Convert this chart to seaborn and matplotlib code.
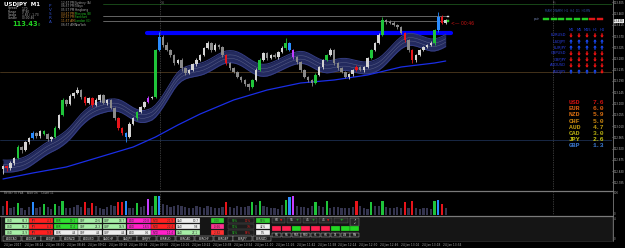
import numpy as np
import pandas as pd
import seaborn as sns
import matplotlib
matplotlib.use('Agg')
import matplotlib.pyplot as plt
from matplotlib.patches import Rectangle, FancyArrow

W, H = 625, 248

# ---- USDJPY M1 candles ----
first_open = 112.838
closes = [112.850, 112.842, 112.862, 112.882, 112.926, 112.914, 112.946, 112.962, 112.982, 112.970,
          112.990, 112.978, 112.958, 112.966, 113.002, 113.054, 113.114, 113.098, 113.130, 113.142,
          113.154, 113.126, 113.102, 113.122, 113.094, 113.114, 113.134, 113.102, 113.114, 113.082,
          113.042, 113.002, 112.982, 112.966, 113.018, 113.042, 113.066, 113.086, 113.106, 113.122,
          113.126, 113.314, 113.366, 113.334, 113.314, 113.294, 113.262, 113.274, 113.242, 113.222,
          113.234, 113.258, 113.274, 113.294, 113.322, 113.342, 113.314, 113.334, 113.326, 113.294,
          113.262, 113.242, 113.226, 113.206, 113.194, 113.178, 113.166, 113.194, 113.234, 113.274,
          113.302, 113.282, 113.294, 113.286, 113.306, 113.322, 113.342, 113.314, 113.286, 113.266,
          113.234, 113.206, 113.194, 113.182, 113.214, 113.246, 113.274, 113.294, 113.314, 113.262,
          113.242, 113.226, 113.206, 113.218, 113.234, 113.246, 113.234, 113.246, 113.282, 113.314,
          113.342, 113.374, 113.434, 113.426, 113.422, 113.414, 113.406, 113.382, 113.354, 113.314,
          113.274, 113.294, 113.314, 113.326, 113.334, 113.342, 113.394, 113.446, 113.422, 113.434]
# wicks in points (0.001)
wick_up = [6, 4, 8, 5, 10, 4, 6, 3, 8, 5,
           4, 6, 3, 5, 7, 4, 10, 6, 8, 5,
           12, 4, 3, 6, 5, 8, 4, 6, 3, 5,
           4, 6, 3, 5, 8, 4, 6, 3, 5, 8,
           4, 6, 20, 8, 10, 6, 4, 6, 8, 5,
           4, 6, 8, 5, 4, 10, 6, 8, 4, 5,
           3, 4, 6, 5, 4, 3, 5, 6, 8, 10,
           4, 6, 5, 8, 6, 8, 20, 4, 3, 5,
           6, 4, 3, 5, 8, 6, 4, 5, 10, 4,
           3, 5, 6, 4, 5, 8, 4, 6, 5, 4,
           6, 8, 12, 6, 8, 10, 6, 4, 5, 3,
           4, 6, 5, 4, 6, 8, 4, 20, 8, 6]
wick_dn = [20, 10, 6, 8, 5, 10, 4, 6, 5, 8,
           6, 4, 8, 6, 5, 4, 3, 6, 5, 8,
           4, 6, 8, 5, 6, 4, 8, 5, 6, 4,
           6, 8, 6, 20, 5, 4, 6, 5, 4, 3,
           5, 4, 3, 6, 5, 8, 6, 5, 10, 6,
           4, 5, 6, 4, 5, 3, 6, 4, 8, 6,
           8, 6, 5, 4, 6, 8, 12, 4, 5, 3,
           4, 6, 5, 4, 6, 3, 8, 5, 6, 8,
           6, 4, 8, 10, 5, 4, 6, 5, 3, 8,
           6, 5, 4, 8, 6, 4, 5, 6, 4, 5,
           3, 4, 5, 6, 4, 5, 6, 5, 8, 6,
           12, 6, 5, 4, 5, 3, 8, 6, 5, 4]
volume = [40, 62, 30, 35, 55, 30, 25, 38, 58, 32,
          36, 52, 35, 28, 50, 40, 62, 34, 30, 38,
          44, 36, 58, 30, 55, 40, 33, 29, 36, 45,
          40, 60, 58, 62, 30, 34, 55, 36, 40, 72,
          42, 85, 88, 50, 45, 38, 42, 44, 40, 36,
          34, 30, 40, 38, 33, 42, 36, 30, 34, 38,
          60, 35, 32, 40, 38, 36, 42, 58, 45, 62,
          40, 36, 30, 34, 28, 45, 70, 82, 86, 40,
          35, 38, 30, 42, 60, 40, 36, 62, 30, 35,
          38, 30, 34, 34, 36, 66, 40, 32, 28, 58,
          42, 40, 65, 35, 30, 32, 36, 30, 60, 34,
          62, 30, 26, 32, 30, 28, 66, 70, 52, 30]
# PVSRA highlighted bars: g=green r=red b=blue m=magenta
bar_flags = {1: 'r', 4: 'g', 8: 'b', 11: 'g', 14: 'g', 16: 'g', 22: 'r', 24: 'r', 31: 'r', 32: 'r',
             33: 'b', 36: 'g', 39: 'm', 41: 'g', 42: 'b', 60: 'r', 67: 'g', 69: 'g', 76: 'g', 77: 'b',
             78: 'm', 84: 'g', 87: 'g', 95: 'r', 99: 'g', 102: 'g', 108: 'r', 110: 'r', 116: 'g',
             117: 'b', 118: 'r'}

slow_ma_idx = [0, 8, 17, 26, 35, 41, 47, 53, 62, 71, 80, 89, 98, 107, 116, 119]
slow_ma = [112.798, 112.822, 112.846, 112.886, 112.926, 112.966, 113.014, 113.058,
           113.114, 113.154, 113.182, 113.194, 113.214, 113.246, 113.262, 113.270]

price_ticks = [113.505, 113.460, 113.415, 113.370, 113.325, 113.280, 113.235, 113.190, 113.145,
               113.100, 113.055, 113.010, 112.965, 112.920, 112.875, 112.830, 112.785]
current_price = 113.430
blue_level = 113.382
grey_levels = [113.450, 113.430]
brown_level = 113.226
navy_level = 112.954
green_level = 113.498

time_labels = ['24 Jan 2017', '24 Jan 08:14', '24 Jan 08:30', '24 Jan 08:46', '24 Jan 09:02',
               '24 Jan 09:18', '24 Jan 09:34', '24 Jan 09:50', '24 Jan 10:06', '24 Jan 10:22',
               '24 Jan 10:38', '24 Jan 10:54', '24 Jan 11:10', '24 Jan 11:26', '24 Jan 11:42',
               '24 Jan 11:58', '24 Jan 12:14', '24 Jan 12:30', '24 Jan 12:46', '24 Jan 13:02',
               '24 Jan 13:18', '24 Jan 13:34']

info_names = ['Spread', 'Range', 'Swaps', 'Candle']
info_vals = ['1.70', '97.90', '1.85 / -1.73', '00:00:46']
sess_times = ['12:57 PM', '06:57 PM', '05:57 PM', '04:57 PM', '02:57 PM', '11:57 AM', '06:57 AM']
sess_names = ['Sydney (A)', 'Tokyo', 'Hongkong', 'Moscow (B)', 'Frankfurt', 'London (G)', 'NewYork']
sess_open = [False, False, False, True, True, True, False]

tf_heads = ['M1', 'M5', 'M15', 'H1', 'H4']
trend_pairs = ['EURUSD', 'USDJPY', 'EURJPY', 'GBPUSD', 'GBPJPY', 'AUDUSD', 'AUDJPY']
trend_dirs = ['DDDDD', 'UUUUU', 'UUUUU', 'DDDDD', 'DDDDD', 'DDDDD', 'UUUUD']
dash_states = ['G', 'G', 'G', 'G', 'G', 'G', 'R', 'R']

ccy_names = ['USD', 'EUR', 'NZD', 'CHF', 'AUD', 'CAD', 'JPY', 'GBP']
ccy_strength = [7.6, 6.0, 5.9, 5.0, 4.7, 3.0, 2.6, 1.3]
ccy_colors = ['#d01010', '#d85a10', '#d86e10', '#c88410', '#bc9810', '#b0a810', '#c8c410', '#3a78d0']

cell_names = ['USD', 'JPY', 'EUR', 'CHF', 'GBP', 'AUD', 'NZD', 'CAD']
cell_vals = [['61.3', '-4.3', '19.1', '20.6', '18.7', '-20.8', '-21.9', '10.7'],
             ['58.2', '-6.1', '17.4', '21.3', '16.9', '-18.5', '-22.4', '9.8'],
             ['71.9', '-9.9', '4.4', '4.4', '4.4', '0.6', '-11.4', '27.1']]
cell_cols = [['#a6eea6', '#ff2020', '#30e030', '#a6eea6', '#a6eea6', '#ff20c8', '#ff2020', '#eeeeee'],
             ['#a6eea6', '#ff2020', '#30e030', '#a6eea6', '#a6eea6', '#ff20c8', '#ff2020', '#eeeeee'],
             ['#a6eea6', '#ff2020', '#eeeeee', '#eeeeee', '#eeeeee', '#eeeeee', '#ff20c8', '#a6eea6']]
score_vals = ['0.00', '-0.66', '-2.82']
score_cols = ['#30d030', '#ff3090', '#ff3030']
pct_pairs = [('90%', '11%'), ('93%', '7%'), ('92%', '58%')]
pct_side = ['56%', '44%', '0%']
pct_side_cols = ['#30d030', '#eeeeee', '#eeeeee']
btn_vals = ['60', '55', '45', '45', '']
btn_signs = ['\u25bc', '+', '+', '\u25bc', '+']
tf_states = ['R', 'R', 'G', 'R', 'R', 'R', 'G', 'G', 'G']
tf_buttons = ['M1', 'M5', 'M15', 'M30', 'H1', 'H4', 'D1', 'W1', 'MN']
pair_buttons = ['AUDCAD', 'AUDCHF', 'AUDJPY', 'AUDNZD', 'AUDUSD', 'CADCHF', 'CADJPY',
                'CHFJPY', 'EURAUD', 'EURCAD', 'EURCHF', 'EURGBP', 'EURJPY', 'EURNZD']

# ---- frame ----
df = pd.DataFrame({'close': closes, 'wu': wick_up, 'wd': wick_dn, 'vol': volume})
df['i'] = np.arange(len(df))
df['open'] = [first_open] + closes[:-1]
df['top'] = df[['open', 'close']].max(axis=1)
df['bot'] = df[['open', 'close']].min(axis=1)
df['high'] = df['top'] + df['wu'] / 1000
df['low'] = df['bot'] - df['wd'] / 1000
flag_col = {'g': '#1fc43a', 'r': '#e8141a', 'b': '#2a8cff', 'm': '#c23cff'}
df['col'] = [flag_col[bar_flags[i]] if i in bar_flags else ('#d4d4d4' if c >= o else '#8a8a8a')
             for i, o, c in zip(df['i'], df['open'], df['close'])]
df['vcol'] = [flag_col[bar_flags[i]] if i in bar_flags else '#34344e' for i in df['i']]
# ribbon: smoothed moving average of closes
centre = df['close'].ewm(span=12, adjust=False).mean().rolling(6, min_periods=1).mean()

sns.set_style('dark', {'axes.facecolor': 'black', 'figure.facecolor': 'black'})
plt.rcParams['font.family'] = ['DejaVu Sans']

fig = plt.figure(figsize=(W / 100, H / 100), dpi=100, facecolor='black')


def rect(x, y, w, h):
    return [x / W, 1 - (y + h) / H, w / W, h / H]


XL = (-0.806, 163.7)

ax = fig.add_axes(rect(0, 0, 612, 190))
ax.set_facecolor('black')
ax.set_xlim(*XL)
ax.set_ylim(112.754, 113.514)
for s in ax.spines.values():
    s.set_visible(False)
ax.set_xticks([])
ax.yaxis.tick_right()
ax.set_yticks(price_ticks)
ax.set_yticklabels([f'{p:.3f}' for p in price_ticks])
ax.tick_params(axis='y', labelsize=1.9, colors='#b8b8b8', length=1, width=0.4, pad=0.3)
ax.grid(False)

# horizontal levels
ax.axhline(green_level, xmin=103 / 612, xmax=1, color='#1c521c', lw=0.6)
for lv in grey_levels:
    ax.axhline(lv, xmin=103 / 612, xmax=448 / 612, color='#8c8c8c', lw=0.5)
ax.axhline(brown_level, color='#4e3a1e', lw=0.6)
ax.axhline(navy_level, color='#1c2e50', lw=0.6)
ax.axhline(blue_level, xmin=147 / 612, xmax=451 / 612, color='#0000ff', lw=3.0, zorder=2)
for xv in [42.2, 147.8]:
    ax.axvline(xv, color='#6a6a6a', lw=0.5, ls=(0, (1, 1.5)))

# ribbon
ax.fill_between(df['i'], centre - 0.024, centre + 0.024, color='#232a5e', lw=0, zorder=2)
for off, c, lw in [(-0.024, '#363e84', 0.7), (0.024, '#363e84', 0.7),
                   (-0.007, '#5a6088', 0.35), (0.007, '#5a6088', 0.35)]:
    sns.lineplot(x=df['i'], y=centre + off, ax=ax, color=c, lw=lw, zorder=2, legend=False)
sns.lineplot(x=slow_ma_idx, y=slow_ma, ax=ax, color='#1a2ee6', lw=0.9, zorder=2, legend=False)

# candles
ax.vlines(df['i'], df['low'], df['high'], colors=df['col'], lw=0.6, zorder=3)
ax.bar(df['i'], np.maximum(df['top'] - df['bot'], 0.002), bottom=df['bot'], width=0.68,
       color=df['col'], lw=0, zorder=4)
ax.annotate(f'{current_price:.3f}', xy=(1.0, current_price), xycoords=('axes fraction', 'data'),
            xytext=(0.8, 0), textcoords='offset points', fontsize=1.9, color='black',
            va='center', ha='left', annotation_clip=False,
            bbox=dict(boxstyle='square,pad=0.15', fc='#e8e8e8', ec='none'))
ax.set_xlabel('')
ax.set_ylabel('')

# volume pane
axv = fig.add_axes(rect(0, 192, 612, 23))
axv.set_facecolor('black')
axv.bar(df['i'], df['vol'], width=0.6, color=df['vcol'], lw=0)
axv.set_xlim(*XL)
axv.set_ylim(0, 105)
axv.axvline(42.2, color='#6a6a6a', lw=0.5, ls=(0, (1, 1.5)))
axv.axvline(147.8, color='#6a6a6a', lw=0.5, ls=(0, (1, 1.5)))
axv.set_xticks([])
axv.set_yticks([])
for s in axv.spines.values():
    s.set_visible(False)

# time axis
axt = fig.add_axes(rect(0, 241, 612, 7))
axt.set_facecolor('black')
axt.set_xlim(*XL)
axt.set_ylim(0, 1)
axt.axis('off')
for k, lab in enumerate(time_labels):
    axt.text(0.27 + 5.618 * k, 0.45, lab, fontsize=2.1, color='#a8a8a8', ha='left', va='center')

# ---- overlay for panels and labels, pixel coords ----
ov = fig.add_axes([0, 0, 1, 1])
ov.set_xlim(0, W)
ov.set_ylim(H, 0)
ov.axis('off')
ov.patch.set_alpha(0)


def box(x, y, w, h, fc, ec=None, lw=0.3):
    ov.add_patch(Rectangle((x, y), w, h, facecolor=fc, edgecolor=ec if ec else fc, lw=lw))


def txt(x, y, s, size=2.3, color='#b0b0b0', ha='left', **kw):
    ov.text(x, y, s, fontsize=size, color=color, ha=ha, va='center', **kw)


ov.plot([612.5, 612.5], [0, 241], color='#7a7a7a', lw=0.6)
ov.plot([0, 612.5], [190.6, 190.6], color='#7a7a7a', lw=0.9)
ov.plot([0, 612.5], [215.6, 215.6], color='#7a7a7a', lw=0.9)
box(0.5, 216.3, 611.5, 24.5, '#151515', '#3a3a3a', 0.4)

# top-left info
txt(4, 4.3, 'USDJPY  M1', size=4, color='white', weight='bold')
for k, (nm, v) in enumerate(zip(info_names, info_vals)):
    txt(8, 8.5 + 3.3 * k, nm, size=2.1)
    txt(22, 8.5 + 3.3 * k, v, size=2.1)
txt(12, 23.5, '113.43', size=4.8, color='#22d022', weight='bold')
txt(37.5, 24.8, '0', size=2.6, color='#22d022')
txt(50, 14, '\n'.join('PVSRA'), size=3, color='#3050c8', ha='center', linespacing=1.05)
for k, (t, nm, op) in enumerate(zip(sess_times, sess_names, sess_open)):
    y = 2.8 + 3.65 * k
    txt(61, y, t, size=2.1, color='#d08a2a' if op else '#a8a8a8')
    txt(75, y, nm, size=2.1, color='#24c424' if op else '#a8a8a8')
txt(161, 3, '14', size=2.2, color='#7a7a7a')
txt(553, 3, 'Fri', size=2.2, color='#7a7a7a')

# countdown and price markers
txt(451, 23.5, '<\u2014 00:46', size=3.3, color='#c81414')
box(447, 20.3, 2, 1.2, '#22d022')
box(447, 16, 2, 1, '#e0e0e0')

# trend dashboard
txt(545, 11, 'MAM  MAMM  H1  H4  D1  H1MN', size=2.1, color='#2c4a9a')
txt(534, 19, 'pair', size=2.2, color='#7080b0')
for k, st in enumerate(dash_states):
    box(543 + 7.7 * k, 18.2, 6, 1.8, '#22cc22' if st == 'G' else '#e01818')
tf_x = [571, 579, 587, 595, 602]
for x, h in zip(tf_x, tf_heads):
    txt(x, 29.8, h, size=2.6, color='#2040e0', ha='center')
for r, (pair, dirs) in enumerate(zip(trend_pairs, trend_dirs)):
    y = 35.5 + 6 * r
    txt(566, y, pair, size=2.6, color='#2a3ee0', ha='right')
    for x, d in zip(tf_x, dirs):
        up = d == 'U'
        ov.add_patch(FancyArrow(x, y + (2.2 if up else -2.2), 0, -4.4 if up else 4.4,
                                width=1.3, head_width=3.6, head_length=2.2,
                                length_includes_head=True, lw=0,
                                color='#1a4cff' if up else '#ff1414'))

# currency strength
for k, (nm, v, c) in enumerate(zip(ccy_names, ccy_strength, ccy_colors)):
    y = 102.5 + 6.2 * k
    ov.text(569, y, nm, fontsize=4.6, color=c, family='Liberation Mono', weight='bold',
            ha='left', va='center')
    ov.text(593, y, f'{v:.1f}', fontsize=4.6, color=c, family='Liberation Mono', weight='bold',
            ha='left', va='center')

# volume pane labels
txt(4, 193.5, 'Better TK PVA    Wait On    Count 11', size=2, color='#9a9a9a')
txt(614, 193.2, '100', size=2, color='#a0a0a0')
txt(614, 214, '0', size=2, color='#a0a0a0')
txt(614, 218.5, '4', size=2, color='#a0a0a0')
txt(614, 238.5, '0', size=2, color='#a0a0a0')

# strength grid
for r in range(3):
    y = 218 + 6 * r
    for c in range(8):
        x = 5 + 24.4 * c
        box(x, y, 23.8, 5.2, cell_cols[r][c], '#202020', 0.2)
        txt(x + 1.5, y + 2.6, cell_names[c], size=2, color='#303030')
        txt(x + 22.5, y + 2.6, cell_vals[r][c], size=2, color='#303030', ha='right')
    box(211, y, 12.5, 5.2, score_cols[r], '#202020', 0.2)
    txt(217.2, y + 2.6, score_vals[r], size=2, color='#303030', ha='center')
    box(228, y, 26, 5.2, '#1c1c1c', '#5a5a5a', 0.3)
    txt(232, y + 2.6, pct_pairs[r][0], size=2, color='#22c022')
    txt(251, y + 2.6, pct_pairs[r][1], size=2, color='#e02020', ha='right')
    box(256, y, 14, 5.2, pct_side_cols[r], '#202020', 0.2)
    txt(263, y + 2.6, pct_side[r], size=2, color='#303030', ha='center')

# signal buttons
btn_x = [272, 287, 303, 319, 334]
btn_w = [13, 14, 14, 13, 14]
for x, w, v, s in zip(btn_x, btn_w, btn_vals, btn_signs):
    box(x, 217.6, w, 5.6, '#262626', '#6a6a6a', 0.3)
    if v:
        txt(x + 3, 220.4, v, size=2.2, color='#d8d8d8')
        txt(x + w - 4, 220.4, s, size=2.6 if s == '+' else 2.2,
            color='#22cc22' if s == '+' else '#e01818', weight='bold', ha='center')
    else:
        txt(x + w / 2, 220.4, s, size=3.2, color='#22cc22', weight='bold', ha='center')
box(350, 217.6, 9, 8, '#262626', '#9a9a9a', 0.3)
txt(354.5, 221.6, '\u2197\n\u2199', size=2, color='#d0d0d0', ha='center', linespacing=0.9)
for k, (st, lab) in enumerate(zip(tf_states, tf_buttons)):
    x = 272 + 9.8 * k
    box(x, 226, 9, 4.8, '#22d822' if st == 'G' else '#ff2050', '#202020', 0.2)
    box(x, 232.6, 9, 4.8, '#1a1a1a', '#c8c8c8', 0.3)
    txt(x + 4.5, 235, lab, size=1.9, color='#e0e0e0', ha='center')

# pair buttons
for k, lab in enumerate(pair_buttons):
    x = 3 + 19.2 * k
    box(x, 236.2, 18.3, 4.8, '#1a1a1a', '#c0c0c0', 0.3)
    txt(x + 9.15, 238.6, lab, size=2, color='#e0e0e0', ha='center')

fig.savefig('out.png', dpi=100, facecolor='black')
